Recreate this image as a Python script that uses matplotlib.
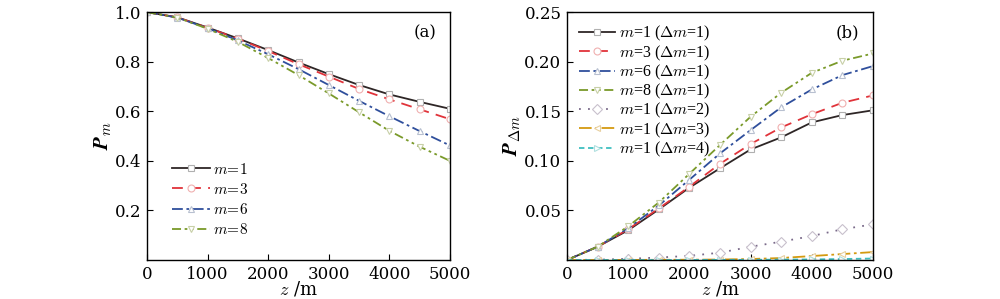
import numpy as np
import matplotlib
matplotlib.use("Agg")
from matplotlib import pyplot as plt

# ==========================
# Data
# ==========================
z = [0, 500, 1000, 1500, 2000, 2500, 3000, 3500, 4000, 4500, 5000]

# (a) P_m
pm_m1 = [1.0, 0.979, 0.938, 0.894, 0.847, 0.797, 0.750, 0.706, 0.668, 0.638, 0.610]
pm_m3 = [1.0, 0.979, 0.937, 0.893, 0.843, 0.790, 0.740, 0.690, 0.648, 0.608, 0.568]
pm_m6 = [1.0, 0.978, 0.935, 0.886, 0.830, 0.770, 0.706, 0.642, 0.580, 0.520, 0.462]
pm_m8 = [1.0, 0.978, 0.933, 0.880, 0.815, 0.746, 0.672, 0.596, 0.521, 0.457, 0.400]

# (b) P_dm
pd_m1 = [0.0, 0.0134, 0.030, 0.051, 0.073, 0.0925, 0.1115, 0.1237, 0.1388, 0.1462, 0.151]
pd_m3 = [0.0, 0.0134, 0.031, 0.052, 0.074, 0.0970, 0.117, 0.1337, 0.147, 0.1586, 0.166]
pd_m6 = [0.0, 0.0134, 0.032, 0.055, 0.081, 0.1075, 0.131, 0.154, 0.172, 0.1865, 0.1956]
pd_m8 = [0.0, 0.0134, 0.034, 0.058, 0.087, 0.116, 0.1445, 0.1687, 0.1888, 0.201, 0.2083]
pd_m1_d2 = [0.0, 0.0003, 0.0012, 0.0025, 0.0042, 0.0074, 0.0134, 0.0185, 0.0242, 0.031, 0.036]
pd_m1_d3 = [0.0, 0.0, 0.0001, 0.0002, 0.0003, 0.0005, 0.001, 0.002, 0.004, 0.006, 0.008]
pd_m1_d4 = [0.0, 0.0, 0.0, 0.0, 0.0001, 0.0001, 0.0002, 0.0004, 0.0006, 0.001, 0.0015]

labels_a = [r"$m\!=\!1$", r"$m\!=\!3$", r"$m\!=\!6$", r"$m\!=\!8$"]
labels_b = [r"$m$=1 ($\Delta m$=1)", r"$m$=3 ($\Delta m$=1)",
            r"$m$=6 ($\Delta m$=1)", r"$m$=8 ($\Delta m$=1)",
            r"$m$=1 ($\Delta m$=2)", r"$m$=1 ($\Delta m$=3)",
            r"$m$=1 ($\Delta m$=4)"]

# ==========================
# Style
# ==========================
plt.rcParams['font.family'] = ['DejaVu Serif']
plt.rcParams['mathtext.fontset'] = 'cm'
plt.rcParams['font.size'] = 10

styles = [
    dict(color='#2e2626', ls='-', marker='s', mec='#b0b0b0'),
    dict(color='#e0333a', ls=(0, (6, 4)), marker='o', mec='#f0b0b0'),
    dict(color='#2f4f9c', ls=(0, (6, 2, 1.5, 2)), marker='^', mec='#b8c0d0'),
    dict(color='#7a9a2a', ls=(0, (5, 2, 1.5, 2, 1.5, 2)), marker='v', mec='#c8d0a8'),
    dict(color='#7a6a8a', ls=(0, (1, 4)), marker='D', mec='#c8c0cc'),
    dict(color='#d49a10', ls=(0, (7, 2, 1.5, 2)), marker='<', mec='#e8d0a0'),
    dict(color='#3fbfc0', ls=(0, (3, 2)), marker='>', mec='#b0e0e0'),
]


def draw(ax, series, labels):
    for y, lab, st in zip(series, labels, styles):
        ax.plot(z, y, color=st['color'], linestyle=st['ls'], linewidth=1.3,
                marker=st['marker'], markersize=5, markerfacecolor='white',
                markeredgecolor=st['mec'], markeredgewidth=0.8, label=lab)
    ax.set_xlim(0, 5000)
    ax.set_xticks([0, 1000, 2000, 3000, 4000, 5000])
    ax.tick_params(direction='in', length=4, width=0.8, labelsize=12, pad=4)
    for s in ax.spines.values():
        s.set_linewidth(1.0)
    ax.set_xlabel("$z$ /m", fontsize=13, labelpad=-2)


fig = plt.figure(figsize=(10, 2.99), dpi=100)

ax1 = fig.add_axes([0.147, 0.1304, 0.303, 0.829])
draw(ax1, [pm_m1, pm_m3, pm_m6, pm_m8], labels_a)
ax1.set_ylim(0, 1.0)
ax1.set_yticks([0.2, 0.4, 0.6, 0.8, 1.0])
ax1.set_ylabel(r"$\boldsymbol{P}_{m}$", fontsize=15, labelpad=1)
ax1.legend(loc='upper left', bbox_to_anchor=(0.063, 0.421), frameon=False,
           fontsize=11, handlelength=2.5, handletextpad=0.2, labelspacing=0.33,
           borderaxespad=0)
ax1.text(0.917, 0.915, "(a)", transform=ax1.transAxes, ha='center', va='center', fontsize=12)

ax2 = fig.add_axes([0.567, 0.1304, 0.306, 0.829])
draw(ax2, [pd_m1, pd_m3, pd_m6, pd_m8, pd_m1_d2, pd_m1_d3, pd_m1_d4], labels_b)
ax2.set_ylim(0, 0.25)
ax2.set_yticks([0.05, 0.10, 0.15, 0.20, 0.25])
ax2.set_yticklabels(["0.05", "0.10", "0.15", "0.20", "0.25"])
ax2.set_ylabel(r"$\boldsymbol{P}_{\Delta m}$", fontsize=15, labelpad=1)
ax2.legend(loc='upper left', bbox_to_anchor=(0.017, 0.977), frameon=False,
           prop={'family': 'Liberation Serif', 'size': 11.5}, handlelength=2.3,
           handletextpad=0.2, labelspacing=0.0, borderaxespad=0)
ax2.text(0.915, 0.915, "(b)", transform=ax2.transAxes, ha='center', va='center', fontsize=12)

fig.savefig("out.png", dpi=100)
